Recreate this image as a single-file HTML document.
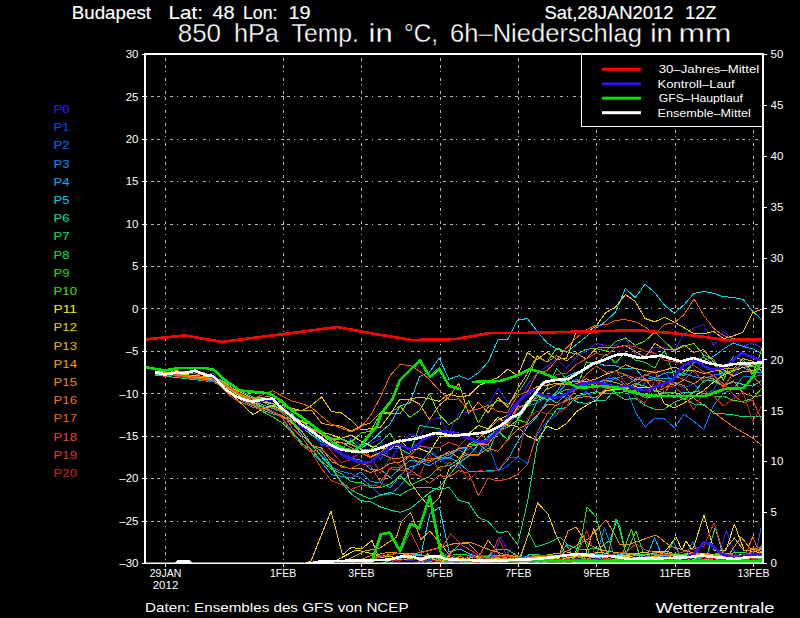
<!DOCTYPE html>
<html><head><meta charset="utf-8"><title>Budapest 850 hPa Ensemble</title>
<style>html,body{margin:0;padding:0;background:#000;width:800px;height:618px;overflow:hidden}svg{display:block}</style>
</head><body>
<svg width="800" height="618" viewBox="0 0 800 618">
<rect width="800" height="618" fill="#000"/>
<path d="M150.5 521.5H763 M150.5 478.5H763 M150.5 436.5H763 M150.5 393.5H763 M150.5 351.5H763 M150.5 308.5H763 M150.5 266.5H763 M150.5 224.5H763 M150.5 181.5H763 M150.5 139.5H763 M150.5 96.5H763" stroke="#b4b4b4" stroke-width="1" stroke-dasharray="3 3.5 3 3.5 1 5.5 3 3.5 1 5.5" fill="none" shape-rendering="crispEdges"/>
<path d="M165.5 58V563 M283.5 58V563 M361.5 58V563 M440.5 58V563 M518.5 58V563 M596.5 58V563 M675.5 58V563 M753.5 58V563" stroke="#b4b4b4" stroke-width="1" stroke-dasharray="3 3.5 3 3.5 1 5.5 3 3.5 1 5.5" fill="none" shape-rendering="crispEdges"/>
<defs><clipPath id="pc"><rect x="145" y="55" width="618" height="508"/></clipPath></defs>
<g clip-path="url(#pc)">
<polyline points="155.0,373.2 164.8,375.1 174.6,373.2 184.4,373.0 194.2,371.0 204.0,375.3 213.8,376.3 223.6,389.4 233.4,394.6 243.2,401.8 253.0,403.2 262.8,401.2 272.6,400.8 282.4,408.9 292.2,416.0 302.0,427.8 311.8,432.6 321.6,445.3 331.4,447.2 341.2,446.8 351.0,458.8 360.8,447.0 370.6,443.8 380.4,438.9 390.2,460.4 400.0,445.2 409.8,434.2 419.6,436.3 429.4,420.4 439.2,417.4 449.0,432.9 458.8,413.2 468.6,411.9 478.4,409.0 488.2,405.7 498.0,388.1 507.8,403.0 517.6,405.9 527.4,384.6 537.2,372.7 547.0,366.3 556.8,359.1 566.6,368.3 576.4,356.8 586.2,351.1 596.0,343.2 605.8,345.9 615.6,345.8 625.4,337.8 635.2,353.9 645.0,356.2 654.8,347.0 664.6,348.0 674.4,351.2 684.2,333.6 694.0,328.1 703.8,324.3 713.6,345.9 723.4,331.7 733.2,339.1 743.0,346.3 752.8,342.7 762.6,348.8 763.0,354.1" stroke="#4010ff" stroke-width="1" fill="none" stroke-linejoin="round" shape-rendering="crispEdges"/>
<polyline points="155.0,371.8 164.8,374.8 174.6,373.2 184.4,372.5 194.2,371.9 204.0,375.0 213.8,373.5 223.6,387.7 233.4,395.2 243.2,400.2 253.0,400.7 262.8,401.3 272.6,399.4 282.4,409.3 292.2,415.4 302.0,421.4 311.8,434.8 321.6,444.9 331.4,443.2 341.2,451.2 351.0,438.3 360.8,445.1 370.6,444.2 380.4,459.1 390.2,448.5 400.0,448.1 409.8,456.5 419.6,445.3 429.4,448.8 439.2,458.0 449.0,465.9 458.8,467.3 468.6,445.4 478.4,454.3 488.2,444.3 498.0,471.3 507.8,465.8 517.6,457.0 527.4,463.4 537.2,435.1 547.0,420.9 556.8,415.3 566.6,397.5 576.4,399.9 586.2,391.5 596.0,401.6 605.8,387.7 615.6,386.7 625.4,387.9 635.2,396.1 645.0,382.0 654.8,379.5 664.6,372.4 674.4,383.7 684.2,387.6 694.0,383.7 703.8,396.7 713.6,389.5 723.4,370.7 733.2,376.7 743.0,365.7 752.8,364.8 762.6,364.9 763.0,369.4" stroke="#0050ff" stroke-width="1" fill="none" stroke-linejoin="round" shape-rendering="crispEdges"/>
<polyline points="155.0,372.0 164.8,373.3 174.6,374.6 184.4,375.9 194.2,377.2 204.0,378.5 213.8,379.8 223.6,385.6 233.4,391.9 243.2,397.7 253.0,402.7 262.8,407.5 272.6,412.7 282.4,415.5 292.2,421.9 302.0,434.7 311.8,445.7 321.6,455.6 331.4,467.3 341.2,471.4 351.0,473.7 360.8,477.9 370.6,485.8 380.4,495.3 390.2,494.3 400.0,486.2 409.8,472.7 419.6,460.3 429.4,462.6 439.2,456.1 449.0,459.0 458.8,447.2 468.6,449.7 478.4,438.7 488.2,427.7 498.0,434.3 507.8,422.9 517.6,406.6 527.4,406.0 537.2,403.1 547.0,396.7 556.8,398.4 566.6,394.1 576.4,388.9 586.2,383.8 596.0,383.1 605.8,379.1 615.6,377.5 625.4,385.2 635.2,411.6 645.0,426.7 654.8,418.1 664.6,419.0 674.4,427.7 684.2,414.3 694.0,421.7 703.8,429.5 713.6,405.2 723.4,393.2 733.2,389.2 743.0,376.8 752.8,376.5 762.6,375.3 763.0,368.8" stroke="#0078ff" stroke-width="1" fill="none" stroke-linejoin="round" shape-rendering="crispEdges"/>
<polyline points="155.0,373.0 164.8,374.3 174.6,375.6 184.4,376.9 194.2,378.2 204.0,379.5 213.8,380.8 223.6,385.9 233.4,391.6 243.2,397.4 253.0,402.5 262.8,407.5 272.6,412.1 282.4,417.8 292.2,431.6 302.0,442.8 311.8,452.6 321.6,461.9 331.4,474.7 341.2,476.2 351.0,478.2 360.8,472.0 370.6,481.7 380.4,482.5 390.2,487.7 400.0,475.5 409.8,467.2 419.6,464.1 429.4,451.8 439.2,458.9 449.0,454.8 458.8,449.8 468.6,455.1 478.4,455.3 488.2,435.5 498.0,430.6 507.8,424.8 517.6,413.5 527.4,402.9 537.2,393.7 547.0,400.6 556.8,394.3 566.6,383.5 576.4,379.3 586.2,385.7 596.0,381.5 605.8,382.2 615.6,378.5 625.4,375.1 635.2,381.4 645.0,374.5 654.8,378.1 664.6,378.7 674.4,378.0 684.2,373.4 694.0,376.7 703.8,378.3 713.6,375.1 723.4,373.3 733.2,370.0 743.0,367.5 752.8,372.9 762.6,372.1 763.0,369.1" stroke="#0098ff" stroke-width="1" fill="none" stroke-linejoin="round" shape-rendering="crispEdges"/>
<polyline points="155.0,372.0 164.8,373.1 174.6,374.3 184.4,375.4 194.2,376.6 204.0,377.7 213.8,378.9 223.6,384.0 233.4,390.0 243.2,395.9 253.0,401.2 262.8,404.8 272.6,408.6 282.4,412.1 292.2,415.7 302.0,425.5 311.8,434.7 321.6,441.8 331.4,447.2 341.2,455.1 351.0,458.3 360.8,460.1 370.6,469.5 380.4,469.3 390.2,477.5 400.0,468.6 409.8,460.5 419.6,461.4 429.4,465.9 439.2,459.6 449.0,457.3 458.8,462.9 468.6,471.3 478.4,471.9 488.2,470.7 498.0,470.7 507.8,459.9 517.6,441.6 527.4,426.9 537.2,416.2 547.0,401.4 556.8,391.7 566.6,376.5 576.4,372.2 586.2,369.6 596.0,362.8 605.8,365.7 615.6,365.8 625.4,369.0 635.2,368.1 645.0,379.5 654.8,377.7 664.6,373.2 674.4,371.7 684.2,375.8 694.0,361.9 703.8,360.8 713.6,356.3 723.4,349.2 733.2,342.9 743.0,346.3 752.8,349.0 762.6,353.9 763.0,352.7" stroke="#00b8ff" stroke-width="1" fill="none" stroke-linejoin="round" shape-rendering="crispEdges"/>
<polyline points="155.0,373.0 164.8,373.7 174.6,374.3 184.4,375.0 194.2,375.6 204.0,376.3 213.8,376.9 223.6,381.5 233.4,386.9 243.2,392.0 253.0,397.0 262.8,401.9 272.6,406.7 282.4,412.2 292.2,415.7 302.0,421.7 311.8,428.6 321.6,432.2 331.4,439.6 341.2,438.9 351.0,444.1 360.8,448.8 370.6,441.6 380.4,432.2 390.2,423.9 400.0,405.9 409.8,403.1 419.6,376.5 429.4,372.2 439.2,358.1 449.0,379.4 458.8,375.6 468.6,379.5 478.4,372.8 488.2,361.8 498.0,339.8 507.8,339.0 517.6,320.2 527.4,318.5 537.2,331.5 547.0,342.8 556.8,349.1 566.6,352.3 576.4,344.4 586.2,336.7 596.0,328.2 605.8,321.3 615.6,311.9 625.4,288.4 635.2,297.5 645.0,284.3 654.8,292.5 664.6,305.4 674.4,313.2 684.2,304.7 694.0,293.4 703.8,291.4 713.6,293.3 723.4,296.7 733.2,297.4 743.0,299.4 752.8,311.3 762.6,320.5 763.0,319.2" stroke="#00d8f0" stroke-width="1" fill="none" stroke-linejoin="round" shape-rendering="crispEdges"/>
<polyline points="155.0,375.0 164.8,376.1 174.6,377.3 184.4,378.4 194.2,379.6 204.0,380.7 213.8,381.9 223.6,387.9 233.4,394.4 243.2,401.3 253.0,405.7 262.8,410.0 272.6,413.9 282.4,416.3 292.2,422.9 302.0,435.2 311.8,444.8 321.6,456.8 331.4,467.4 341.2,482.6 351.0,493.6 360.8,500.7 370.6,501.6 380.4,507.0 390.2,510.0 400.0,512.3 409.8,508.8 419.6,501.1 429.4,492.6 439.2,487.4 449.0,475.5 458.8,463.2 468.6,456.1 478.4,444.7 488.2,437.2 498.0,429.4 507.8,415.3 517.6,418.1 527.4,400.0 537.2,400.3 547.0,397.2 556.8,403.0 566.6,394.0 576.4,401.8 586.2,403.6 596.0,401.0 605.8,400.3 615.6,388.7 625.4,387.3 635.2,383.7 645.0,386.1 654.8,390.5 664.6,392.9 674.4,397.8 684.2,392.0 694.0,392.6 703.8,380.5 713.6,381.0 723.4,385.9 733.2,381.9 743.0,384.4 752.8,386.1 762.6,380.2 763.0,377.2" stroke="#00e0a0" stroke-width="1" fill="none" stroke-linejoin="round" shape-rendering="crispEdges"/>
<polyline points="155.0,374.0 164.8,375.0 174.6,376.0 184.4,376.9 194.2,377.9 204.0,378.9 213.8,379.9 223.6,386.2 233.4,393.3 243.2,400.4 253.0,404.9 262.8,407.2 272.6,408.1 282.4,410.7 292.2,421.7 302.0,431.6 311.8,444.7 321.6,451.8 331.4,465.9 341.2,481.9 351.0,489.7 360.8,495.0 370.6,499.0 380.4,495.0 390.2,492.6 400.0,495.3 409.8,489.5 419.6,487.1 429.4,487.6 439.2,489.4 449.0,487.3 458.8,500.4 468.6,503.0 478.4,517.4 488.2,521.5 498.0,532.5 507.8,531.7 517.6,544.7 527.4,502.4 537.2,444.7 547.0,423.1 556.8,409.0 566.6,407.7 576.4,396.0 586.2,393.9 596.0,391.7 605.8,393.4 615.6,393.9 625.4,399.7 635.2,398.0 645.0,405.3 654.8,409.4 664.6,409.2 674.4,402.1 684.2,398.3 694.0,404.0 703.8,404.4 713.6,413.3 723.4,413.8 733.2,414.9 743.0,416.7 752.8,416.8 762.6,416.7 763.0,418.8" stroke="#00e070" stroke-width="1" fill="none" stroke-linejoin="round" shape-rendering="crispEdges"/>
<polyline points="155.0,372.5 164.8,373.6 174.6,375.3 184.4,373.0 194.2,371.5 204.0,375.4 213.8,377.8 223.6,389.4 233.4,394.0 243.2,400.6 253.0,401.8 262.8,400.4 272.6,403.4 282.4,411.1 292.2,413.4 302.0,427.3 311.8,435.2 321.6,440.0 331.4,437.9 341.2,449.4 351.0,440.5 360.8,449.6 370.6,449.3 380.4,442.6 390.2,433.1 400.0,449.0 409.8,453.7 419.6,425.4 429.4,427.2 439.2,428.6 449.0,436.8 458.8,432.8 468.6,436.2 478.4,444.0 488.2,451.6 498.0,430.8 507.8,439.9 517.6,419.9 527.4,422.7 537.2,401.3 547.0,387.9 556.8,368.7 566.6,379.1 576.4,389.6 586.2,361.9 596.0,363.7 605.8,354.0 615.6,362.9 625.4,352.7 635.2,360.0 645.0,362.2 654.8,368.1 664.6,349.5 674.4,377.0 684.2,371.6 694.0,363.1 703.8,356.8 713.6,364.6 723.4,373.6 733.2,369.8 743.0,364.4 752.8,366.9 762.6,364.5 763.0,367.0" stroke="#10e040" stroke-width="1" fill="none" stroke-linejoin="round" shape-rendering="crispEdges"/>
<polyline points="155.0,373.0 164.8,374.1 174.6,375.3 184.4,376.4 194.2,377.6 204.0,378.7 213.8,379.9 223.6,384.9 233.4,392.0 243.2,398.2 253.0,403.5 262.8,411.6 272.6,416.8 282.4,423.1 292.2,432.7 302.0,443.8 311.8,449.6 321.6,461.4 331.4,469.0 341.2,473.4 351.0,481.8 360.8,482.5 370.6,487.5 380.4,487.6 390.2,484.0 400.0,475.7 409.8,485.4 419.6,480.8 429.4,476.7 439.2,467.2 449.0,465.5 458.8,459.5 468.6,444.8 478.4,444.7 488.2,441.5 498.0,429.7 507.8,427.4 517.6,420.0 527.4,406.3 537.2,395.4 547.0,399.5 556.8,394.0 566.6,389.3 576.4,389.4 586.2,381.8 596.0,386.1 605.8,386.1 615.6,392.8 625.4,391.7 635.2,390.6 645.0,397.8 654.8,396.5 664.6,392.9 674.4,392.5 684.2,400.1 694.0,391.0 703.8,393.1 713.6,396.1 723.4,396.0 733.2,400.6 743.0,401.4 752.8,398.4 762.6,387.3 763.0,389.4" stroke="#30e000" stroke-width="1" fill="none" stroke-linejoin="round" shape-rendering="crispEdges"/>
<polyline points="155.0,371.7 164.8,376.4 174.6,371.5 184.4,371.0 194.2,371.1 204.0,374.5 213.8,376.6 223.6,383.7 233.4,391.3 243.2,396.5 253.0,399.4 262.8,397.7 272.6,399.1 282.4,403.3 292.2,420.9 302.0,420.6 311.8,430.0 321.6,432.9 331.4,438.0 341.2,438.8 351.0,442.3 360.8,433.1 370.6,430.9 380.4,413.5 390.2,412.7 400.0,406.1 409.8,417.4 419.6,410.5 429.4,393.7 439.2,414.5 449.0,424.8 458.8,418.2 468.6,400.6 478.4,422.9 488.2,407.2 498.0,400.4 507.8,404.3 517.6,393.3 527.4,378.7 537.2,356.7 547.0,362.2 556.8,348.0 566.6,351.7 576.4,354.2 586.2,349.2 596.0,348.6 605.8,351.0 615.6,341.6 625.4,338.0 635.2,345.2 645.0,341.2 654.8,331.8 664.6,341.5 674.4,350.7 684.2,346.0 694.0,343.6 703.8,355.3 713.6,359.1 723.4,380.4 733.2,356.7 743.0,359.9 752.8,373.5 762.6,346.9 763.0,348.2" stroke="#50e000" stroke-width="1" fill="none" stroke-linejoin="round" shape-rendering="crispEdges"/>
<polyline points="155.0,372.0 164.8,373.3 174.6,374.6 184.4,375.9 194.2,377.2 204.0,378.5 213.8,379.8 223.6,388.0 233.4,396.3 243.2,405.3 253.0,414.6 262.8,408.9 272.6,405.6 282.4,410.1 292.2,417.1 302.0,421.9 311.8,424.7 321.6,432.0 331.4,434.7 341.2,438.4 351.0,435.1 360.8,441.0 370.6,446.1 380.4,447.5 390.2,449.8 400.0,439.5 409.8,450.6 419.6,448.6 429.4,452.6 439.2,437.0 449.0,435.9 458.8,433.9 468.6,433.7 478.4,425.5 488.2,428.8 498.0,417.1 507.8,425.1 517.6,426.4 527.4,436.1 537.2,440.3 547.0,426.4 556.8,429.9 566.6,423.4 576.4,411.7 586.2,405.5 596.0,399.9 605.8,390.6 615.6,389.5 625.4,388.9 635.2,386.8 645.0,387.9 654.8,386.1 664.6,403.8 674.4,407.9 684.2,402.9 694.0,396.6 703.8,390.3 713.6,382.1 723.4,375.0 733.2,371.0 743.0,367.4 752.8,365.2 762.6,361.0 763.0,367.2" stroke="#f0e000" stroke-width="1" fill="none" stroke-linejoin="round" shape-rendering="crispEdges"/>
<polyline points="155.0,371.0 164.8,372.1 174.6,373.3 184.4,374.4 194.2,375.6 204.0,376.7 213.8,377.9 223.6,382.5 233.4,388.7 243.2,393.7 253.0,398.9 262.8,401.9 272.6,403.8 282.4,405.6 292.2,408.5 302.0,410.7 311.8,405.3 321.6,397.0 331.4,411.6 341.2,412.8 351.0,420.2 360.8,429.8 370.6,428.7 380.4,427.5 390.2,414.3 400.0,399.0 409.8,399.0 419.6,397.1 429.4,398.8 439.2,401.2 449.0,394.2 458.8,396.7 468.6,395.7 478.4,385.9 488.2,381.4 498.0,377.6 507.8,369.0 517.6,375.8 527.4,352.5 537.2,359.7 547.0,352.0 556.8,359.4 566.6,358.3 576.4,331.2 586.2,332.3 596.0,326.3 605.8,312.5 615.6,307.0 625.4,294.6 635.2,301.3 645.0,318.5 654.8,321.8 664.6,317.3 674.4,322.2 684.2,327.8 694.0,333.7 703.8,334.0 713.6,331.2 723.4,338.7 733.2,335.9 743.0,332.1 752.8,312.8 762.6,308.9 763.0,311.2" stroke="#f0c800" stroke-width="1" fill="none" stroke-linejoin="round" shape-rendering="crispEdges"/>
<polyline points="155.0,373.0 164.8,374.0 174.6,375.0 184.4,375.9 194.2,376.9 204.0,377.9 213.8,378.9 223.6,384.7 233.4,391.5 243.2,398.3 253.0,402.8 262.8,406.2 272.6,411.5 282.4,416.0 292.2,420.0 302.0,425.6 311.8,429.1 321.6,434.2 331.4,442.2 341.2,442.6 351.0,444.4 360.8,449.2 370.6,456.5 380.4,452.6 390.2,444.4 400.0,447.5 409.8,481.7 419.6,495.3 429.4,506.9 439.2,497.9 449.0,469.0 458.8,462.2 468.6,444.5 478.4,438.7 488.2,429.5 498.0,420.2 507.8,415.3 517.6,403.5 527.4,392.5 537.2,386.6 547.0,385.1 556.8,383.4 566.6,382.9 576.4,381.3 586.2,381.5 596.0,378.9 605.8,374.2 615.6,371.5 625.4,364.9 635.2,368.4 645.0,370.6 654.8,372.7 664.6,370.2 674.4,367.2 684.2,370.1 694.0,370.2 703.8,373.5 713.6,371.1 723.4,369.7 733.2,376.2 743.0,371.6 752.8,370.6 762.6,367.2 763.0,367.2" stroke="#f0b400" stroke-width="1" fill="none" stroke-linejoin="round" shape-rendering="crispEdges"/>
<polyline points="155.0,371.6 164.8,374.7 174.6,370.7 184.4,371.4 194.2,370.7 204.0,372.7 213.8,377.5 223.6,386.0 233.4,391.4 243.2,396.4 253.0,398.0 262.8,397.4 272.6,395.6 282.4,400.3 292.2,410.6 302.0,410.8 311.8,410.5 321.6,423.3 331.4,425.3 341.2,426.1 351.0,431.3 360.8,425.9 370.6,422.7 380.4,412.5 390.2,413.4 400.0,413.8 409.8,399.1 419.6,404.1 429.4,419.5 439.2,405.4 449.0,396.8 458.8,383.4 468.6,413.7 478.4,402.2 488.2,412.8 498.0,397.7 507.8,407.3 517.6,388.7 527.4,373.4 537.2,355.8 547.0,362.1 556.8,355.7 566.6,361.0 576.4,353.0 586.2,359.0 596.0,348.3 605.8,347.1 615.6,347.2 625.4,345.5 635.2,351.4 645.0,357.3 654.8,343.4 664.6,349.5 674.4,349.8 684.2,344.9 694.0,352.3 703.8,349.6 713.6,362.3 723.4,368.4 733.2,368.9 743.0,358.6 752.8,361.2 762.6,372.6 763.0,383.1" stroke="#f0a000" stroke-width="1" fill="none" stroke-linejoin="round" shape-rendering="crispEdges"/>
<polyline points="155.0,372.0 164.8,373.3 174.6,374.6 184.4,375.9 194.2,377.2 204.0,378.5 213.8,379.8 223.6,385.0 233.4,390.8 243.2,396.0 253.0,401.6 262.8,406.6 272.6,412.0 282.4,416.5 292.2,423.6 302.0,431.8 311.8,445.5 321.6,447.9 331.4,461.6 341.2,465.8 351.0,468.8 360.8,468.8 370.6,472.6 380.4,469.4 390.2,463.3 400.0,462.2 409.8,456.0 419.6,458.4 429.4,460.8 439.2,456.9 449.0,453.0 458.8,448.7 468.6,446.7 478.4,444.6 488.2,444.4 498.0,430.7 507.8,422.1 517.6,407.1 527.4,403.7 537.2,397.7 547.0,389.2 556.8,384.8 566.6,384.8 576.4,383.9 586.2,378.8 596.0,382.5 605.8,380.3 615.6,382.6 625.4,386.0 635.2,379.4 645.0,380.3 654.8,379.9 664.6,381.5 674.4,385.2 684.2,379.7 694.0,383.7 703.8,376.8 713.6,379.0 723.4,386.1 733.2,380.8 743.0,392.8 752.8,396.3 762.6,395.7 763.0,394.3" stroke="#f08c00" stroke-width="1" fill="none" stroke-linejoin="round" shape-rendering="crispEdges"/>
<polyline points="155.0,373.0 164.8,374.1 174.6,375.3 184.4,376.4 194.2,377.6 204.0,378.7 213.8,379.9 223.6,384.9 233.4,390.5 243.2,396.9 253.0,401.0 262.8,406.4 272.6,411.6 282.4,415.9 292.2,420.0 302.0,426.4 311.8,431.0 321.6,432.9 331.4,439.5 341.2,442.7 351.0,447.3 360.8,452.9 370.6,457.5 380.4,452.8 390.2,458.4 400.0,458.1 409.8,456.1 419.6,463.4 429.4,458.4 439.2,458.2 449.0,451.2 458.8,457.9 468.6,454.5 478.4,454.8 488.2,448.3 498.0,451.3 507.8,439.6 517.6,429.4 527.4,424.3 537.2,415.0 547.0,404.6 556.8,405.2 566.6,399.9 576.4,398.2 586.2,396.4 596.0,397.9 605.8,389.1 615.6,386.9 625.4,388.1 635.2,385.3 645.0,378.3 654.8,392.0 664.6,387.7 674.4,382.1 684.2,385.9 694.0,398.3 703.8,405.4 713.6,411.9 723.4,419.6 733.2,426.7 743.0,432.4 752.8,438.2 762.6,446.2 763.0,439.6" stroke="#f07800" stroke-width="1" fill="none" stroke-linejoin="round" shape-rendering="crispEdges"/>
<polyline points="155.0,373.0 164.8,373.8 174.6,374.6 184.4,375.4 194.2,376.3 204.0,377.1 213.8,377.9 223.6,383.0 233.4,389.6 243.2,395.5 253.0,398.9 262.8,394.5 272.6,390.7 282.4,396.1 292.2,401.0 302.0,403.5 311.8,407.7 321.6,416.3 331.4,424.1 341.2,428.1 351.0,432.1 360.8,427.4 370.6,415.3 380.4,397.2 390.2,375.5 400.0,364.7 409.8,365.3 419.6,371.2 429.4,379.4 439.2,390.3 449.0,399.4 458.8,398.9 468.6,410.7 478.4,409.0 488.2,405.3 498.0,411.8 507.8,412.2 517.6,395.3 527.4,391.7 537.2,373.4 547.0,370.8 556.8,360.1 566.6,347.8 576.4,337.8 586.2,329.8 596.0,325.2 605.8,324.9 615.6,320.2 625.4,319.8 635.2,321.5 645.0,327.0 654.8,333.9 664.6,324.3 674.4,322.8 684.2,314.5 694.0,298.9 703.8,315.4 713.6,328.4 723.4,335.5 733.2,338.8 743.0,339.6 752.8,338.8 762.6,339.6 763.0,342.3" stroke="#f06000" stroke-width="1" fill="none" stroke-linejoin="round" shape-rendering="crispEdges"/>
<polyline points="155.0,370.7 164.8,376.9 174.6,373.4 184.4,373.7 194.2,373.9 204.0,374.5 213.8,378.6 223.6,389.2 233.4,398.6 243.2,403.0 253.0,407.3 262.8,409.5 272.6,407.2 282.4,412.6 292.2,428.0 302.0,437.2 311.8,451.7 321.6,449.2 331.4,458.1 341.2,467.2 351.0,468.4 360.8,463.5 370.6,466.3 380.4,481.5 390.2,468.7 400.0,470.3 409.8,469.7 419.6,476.2 429.4,483.3 439.2,475.5 449.0,477.0 458.8,470.6 468.6,473.2 478.4,495.6 488.2,478.3 498.0,481.1 507.8,478.9 517.6,474.7 527.4,464.7 537.2,432.4 547.0,413.9 556.8,404.4 566.6,401.4 576.4,388.3 586.2,374.4 596.0,366.1 605.8,372.2 615.6,371.4 625.4,374.6 635.2,378.5 645.0,375.8 654.8,370.8 664.6,393.7 674.4,376.2 684.2,379.6 694.0,370.4 703.8,383.0 713.6,375.2 723.4,387.5 733.2,372.9 743.0,361.7 752.8,376.2 762.6,386.5 763.0,382.1" stroke="#e84818" stroke-width="1" fill="none" stroke-linejoin="round" shape-rendering="crispEdges"/>
<polyline points="155.0,373.0 164.8,374.5 174.6,375.9 184.4,377.4 194.2,378.9 204.0,380.4 213.8,381.8 223.6,387.0 233.4,393.3 243.2,400.4 253.0,404.7 262.8,409.1 272.6,411.4 282.4,418.0 292.2,434.6 302.0,445.4 311.8,452.8 321.6,468.7 331.4,480.6 341.2,484.3 351.0,489.4 360.8,485.6 370.6,485.0 380.4,486.5 390.2,467.3 400.0,467.4 409.8,455.4 419.6,446.7 429.4,447.1 439.2,447.9 449.0,442.1 458.8,446.2 468.6,436.1 478.4,432.1 488.2,440.5 498.0,432.5 507.8,426.6 517.6,408.6 527.4,404.0 537.2,389.4 547.0,382.7 556.8,374.2 566.6,373.6 576.4,364.2 586.2,359.1 596.0,353.0 605.8,356.0 615.6,347.7 625.4,345.6 635.2,346.5 645.0,351.1 654.8,353.3 664.6,360.2 674.4,361.7 684.2,364.4 694.0,365.5 703.8,372.0 713.6,375.3 723.4,383.8 733.2,394.0 743.0,402.9 752.8,400.0 762.6,422.7 763.0,421.8" stroke="#d83820" stroke-width="1" fill="none" stroke-linejoin="round" shape-rendering="crispEdges"/>
<polyline points="155.0,371.1 164.8,375.6 174.6,373.6 184.4,373.7 194.2,370.8 204.0,374.5 213.8,378.9 223.6,386.1 233.4,394.9 243.2,400.4 253.0,400.2 262.8,399.8 272.6,400.7 282.4,410.5 292.2,417.9 302.0,424.5 311.8,432.9 321.6,439.4 331.4,451.2 341.2,462.6 351.0,459.6 360.8,452.0 370.6,456.3 380.4,473.1 390.2,457.8 400.0,465.6 409.8,474.0 419.6,475.7 429.4,454.2 439.2,470.0 449.0,462.5 458.8,465.7 468.6,480.1 478.4,470.5 488.2,471.6 498.0,470.6 507.8,457.1 517.6,457.4 527.4,418.6 537.2,411.1 547.0,413.6 556.8,414.0 566.6,407.7 576.4,385.1 586.2,385.1 596.0,390.0 605.8,380.0 615.6,370.5 625.4,382.8 635.2,396.6 645.0,403.4 654.8,380.3 664.6,387.4 674.4,386.5 684.2,395.1 694.0,410.1 703.8,390.5 713.6,396.2 723.4,405.9 733.2,399.0 743.0,391.8 752.8,421.3 762.6,404.7 763.0,418.9" stroke="#c82020" stroke-width="1" fill="none" stroke-linejoin="round" shape-rendering="crispEdges"/>
<polyline points="145.0,563.5 393.3,563.5 403.1,559.7 412.9,560.9 422.7,561.9 432.5,560.6 442.3,562.2 452.1,562.2 461.9,560.4 471.7,553.5 481.5,560.5 491.3,562.0 501.1,536.5 510.9,559.1 520.7,560.2 530.5,561.2 540.3,560.9 550.1,561.0 559.9,561.1 569.7,553.4 579.5,559.9 589.3,561.5 599.1,558.4 608.9,555.0 618.7,559.9 628.5,553.6 638.3,562.5 648.1,554.0 657.9,559.5 667.7,559.9 677.5,560.1 687.3,559.8 697.1,553.6 706.9,562.1 716.7,559.7 726.5,531.0 736.3,556.5 746.1,561.9 755.9,562.1 763.0,562.1" stroke="#4010ff" stroke-width="1" fill="none" stroke-linejoin="round" shape-rendering="crispEdges"/>
<polyline points="145.0,563.5 420.0,563.5 440.0,556.0 460.0,559.0 480.0,555.0 500.0,557.0 520.0,556.0 540.0,558.0 560.0,555.0 580.0,557.0 600.0,554.0 620.0,556.0 640.0,559.0 660.0,556.0 680.0,558.0 700.0,555.0 720.0,558.0 740.0,556.0 756.0,553.0 761.0,528.6 763.0,528.0" stroke="#0050ff" stroke-width="1" fill="none" stroke-linejoin="round" shape-rendering="crispEdges"/>
<polyline points="145.0,563.5 388.9,563.5 398.7,558.5 408.5,560.0 418.3,559.8 428.1,557.7 437.9,560.5 447.7,553.4 457.5,558.6 467.3,561.5 477.1,559.9 486.9,556.3 496.7,556.2 506.5,561.1 516.3,561.0 526.1,559.9 535.9,559.4 545.7,560.0 555.5,559.1 565.3,559.6 575.1,553.7 584.9,560.7 594.7,562.2 604.5,527.6 614.3,555.4 624.1,554.6 633.9,561.6 643.7,555.3 653.5,558.8 663.3,559.9 673.1,561.6 682.9,561.9 692.7,541.7 702.5,562.3 712.3,557.8 722.1,562.1 731.9,554.1 741.7,560.5 751.5,560.7 761.3,560.2 763.0,528.7" stroke="#0078ff" stroke-width="1" fill="none" stroke-linejoin="round" shape-rendering="crispEdges"/>
<polyline points="145.0,563.5 428.1,563.5 437.9,562.4 447.7,561.0 457.5,561.5 467.3,562.3 477.1,560.2 486.9,560.2 496.7,560.1 506.5,561.4 516.3,559.7 526.1,561.2 535.9,559.9 545.7,560.6 555.5,560.7 565.3,562.3 575.1,559.5 584.9,560.3 594.7,555.2 604.5,561.2 614.3,562.2 624.1,562.4 633.9,561.0 643.7,555.5 653.5,560.6 663.3,561.7 673.1,541.1 682.9,561.9 692.7,554.0 702.5,561.2 712.3,561.5 722.1,561.9 731.9,560.0 741.7,559.8 751.5,556.3 761.3,559.5 763.0,559.9" stroke="#0098ff" stroke-width="1" fill="none" stroke-linejoin="round" shape-rendering="crispEdges"/>
<polyline points="145.0,563.5 448.8,563.5 458.6,559.6 468.4,559.3 478.2,561.7 488.0,557.5 497.8,561.0 507.6,559.9 517.4,561.1 527.2,560.2 537.0,562.4 546.8,560.8 556.6,560.1 566.4,544.5 576.2,562.4 586.0,561.8 595.8,560.1 605.6,561.1 615.4,560.5 625.2,559.6 635.0,561.9 644.8,562.0 654.6,537.6 664.4,562.0 674.2,558.0 684.0,560.9 693.8,560.2 703.6,554.8 713.4,562.2 723.2,560.3 733.0,557.2 742.8,559.7 752.6,556.4 762.4,560.1 763.0,561.1" stroke="#00b8ff" stroke-width="1" fill="none" stroke-linejoin="round" shape-rendering="crispEdges"/>
<polyline points="145.0,563.5 360.0,563.5 380.0,556.0 400.0,553.0 421.0,554.5 429.8,514.2 439.4,507.2 449.0,552.0 460.0,549.0 472.0,555.0 490.0,558.0 510.0,556.0 530.0,558.0 550.0,555.0 570.0,557.0 590.0,553.0 610.0,556.0 630.0,553.0 650.0,557.0 670.0,555.0 690.0,558.0 710.0,554.0 730.0,557.0 763.0,555.0" stroke="#00d8f0" stroke-width="1" fill="none" stroke-linejoin="round" shape-rendering="crispEdges"/>
<polyline points="145.0,563.5 421.2,563.5 431.0,555.3 440.8,560.5 450.6,561.8 460.4,559.5 470.2,560.9 480.0,561.5 489.8,559.9 499.6,562.2 509.4,560.8 519.2,561.0 529.0,554.7 538.8,554.8 548.6,558.1 558.4,562.1 568.2,556.8 578.0,559.9 587.8,559.6 597.6,559.6 607.4,558.9 617.2,561.6 627.0,560.5 636.8,559.9 646.6,561.5 656.4,554.4 666.2,561.9 676.0,559.5 685.8,560.8 695.6,556.6 705.4,560.7 715.2,527.5 725.0,561.3 734.8,560.8 744.6,560.4 754.4,556.6 763.0,559.6" stroke="#00e0a0" stroke-width="1" fill="none" stroke-linejoin="round" shape-rendering="crispEdges"/>
<polyline points="145.0,563.5 480.0,563.5 496.0,549.0 508.0,550.0 516.0,555.0 520.0,557.0 529.0,533.0 536.0,547.0 548.0,543.0 560.0,537.0 568.0,545.0 580.0,550.0 600.0,548.0 610.0,540.0 617.0,520.0 626.0,554.0 640.0,555.0 660.0,552.0 680.0,556.0 700.0,553.0 720.0,555.0 740.0,552.0 763.0,556.0" stroke="#00e070" stroke-width="1" fill="none" stroke-linejoin="round" shape-rendering="crispEdges"/>
<polyline points="145.0,563.5 380.0,563.5 400.0,558.0 420.0,555.0 440.0,557.0 460.0,554.0 480.0,557.0 500.0,555.0 520.0,558.0 540.0,556.0 560.0,557.0 576.0,555.0 580.0,545.0 587.0,507.0 596.0,517.0 604.0,545.0 608.0,555.0 616.0,519.0 620.0,527.0 626.0,554.0 636.0,531.0 643.0,552.0 660.0,556.0 680.0,554.0 700.0,557.0 720.0,553.0 740.0,556.0 763.0,554.0" stroke="#10e040" stroke-width="1" fill="none" stroke-linejoin="round" shape-rendering="crispEdges"/>
<polyline points="145.0,563.5 459.3,563.5 469.1,557.1 478.9,557.4 488.7,559.7 498.5,561.5 508.3,556.1 518.1,562.1 527.9,562.4 537.7,558.8 547.5,561.5 557.3,560.6 567.1,555.3 576.9,556.8 586.7,559.1 596.5,561.2 606.3,557.5 616.1,562.0 625.9,556.0 635.7,560.9 645.5,560.6 655.3,561.8 665.1,560.0 674.9,561.5 684.7,553.9 694.5,553.3 704.3,562.1 714.1,555.3 723.9,559.8 733.7,561.2 743.5,562.1 753.3,560.4 763.0,543.1" stroke="#30e000" stroke-width="1" fill="none" stroke-linejoin="round" shape-rendering="crispEdges"/>
<polyline points="145.0,563.5 425.5,563.5 435.3,559.5 445.1,556.9 454.9,561.0 464.7,561.9 474.5,559.7 484.3,556.5 494.1,560.8 503.9,559.1 513.7,554.5 523.5,559.7 533.3,560.0 543.1,561.1 552.9,561.5 562.7,560.9 572.5,560.7 582.3,533.0 592.1,561.9 601.9,560.2 611.7,561.9 621.5,556.8 631.3,529.0 641.1,560.3 650.9,560.6 660.7,560.7 670.5,559.5 680.3,561.7 690.1,560.2 699.9,560.0 709.7,559.8 719.5,560.4 729.3,560.2 739.1,560.3 748.9,558.0 758.7,562.5 763.0,555.9" stroke="#50e000" stroke-width="1" fill="none" stroke-linejoin="round" shape-rendering="crispEdges"/>
<polyline points="145.0,563.5 330.0,563.5 347.5,554.5 356.2,550.0 365.0,552.0 380.0,556.0 400.0,553.0 420.0,558.0 440.0,555.0 460.0,559.0 480.0,556.0 500.0,560.0 520.0,559.0 540.0,557.0 560.0,559.0 580.0,556.0 600.0,558.0 620.0,555.0 640.0,558.0 660.0,556.0 668.0,548.0 676.0,537.0 682.0,550.0 686.0,541.0 692.0,550.0 694.0,546.0 704.0,515.0 714.0,550.0 726.0,550.0 734.4,524.0 744.0,550.0 763.0,553.0" stroke="#f0e000" stroke-width="1" fill="none" stroke-linejoin="round" shape-rendering="crispEdges"/>
<polyline points="145.0,563.5 305.0,563.5 311.0,561.0 331.0,511.0 342.5,555.0 351.0,547.5 361.5,549.0 372.0,540.5 379.0,558.0 390.0,556.0 400.0,560.0 420.0,557.0 440.0,561.0 460.0,558.0 480.0,560.0 500.0,558.0 520.0,559.0 528.0,535.0 537.6,503.0 548.0,514.0 556.0,535.0 564.0,551.0 580.0,556.0 600.0,552.0 620.0,557.0 640.0,553.0 656.0,551.0 666.0,551.0 680.0,556.0 700.0,553.0 720.0,557.0 740.0,555.0 763.0,556.0" stroke="#f0c800" stroke-width="1" fill="none" stroke-linejoin="round" shape-rendering="crispEdges"/>
<polyline points="145.0,563.5 417.4,563.5 427.2,553.7 437.0,561.5 446.8,560.8 456.6,561.3 466.4,560.5 476.2,560.2 486.0,562.4 495.8,560.2 505.6,557.6 515.4,559.1 525.2,562.2 535.0,554.0 544.8,560.9 554.6,560.8 564.4,560.6 574.2,562.3 584.0,560.2 593.8,528.3 603.6,557.1 613.4,556.9 623.2,562.3 633.0,561.2 642.8,560.7 652.6,558.4 662.4,560.8 672.2,555.4 682.0,560.4 691.8,560.2 701.6,555.1 711.4,554.1 721.2,562.3 731.0,559.6 740.8,554.0 750.6,561.0 760.4,561.8 763.0,559.6" stroke="#f0b400" stroke-width="1" fill="none" stroke-linejoin="round" shape-rendering="crispEdges"/>
<polyline points="145.0,563.5 340.0,563.5 365.0,551.0 380.0,548.0 396.5,537.0 401.8,521.0 410.5,512.5 421.0,539.6 429.8,531.0 438.5,541.4 449.0,554.5 460.0,544.0 468.0,543.0 480.0,555.0 488.0,540.0 500.0,555.0 520.0,558.0 540.0,556.0 560.0,553.0 568.0,531.0 576.0,527.0 584.0,539.0 590.0,545.0 600.0,550.0 620.0,553.0 640.0,556.0 660.0,552.0 680.0,557.0 700.0,554.0 720.0,556.0 734.4,538.0 744.0,550.6 755.0,549.6 763.0,552.0" stroke="#f0a000" stroke-width="1" fill="none" stroke-linejoin="round" shape-rendering="crispEdges"/>
<polyline points="145.0,563.5 350.0,563.5 370.0,556.0 390.0,552.0 410.0,555.0 430.0,550.0 452.5,544.0 470.0,542.2 490.0,550.0 510.0,556.0 530.0,558.0 560.0,555.0 588.0,539.0 606.0,520.0 614.0,533.0 620.0,545.0 630.0,544.0 656.0,535.0 670.0,546.0 690.0,552.0 710.0,556.0 730.0,553.0 741.0,537.0 750.0,548.0 763.0,550.0" stroke="#f08c00" stroke-width="1" fill="none" stroke-linejoin="round" shape-rendering="crispEdges"/>
<polyline points="145.0,563.5 431.2,563.5 441.0,559.5 450.8,560.7 460.6,556.0 470.4,561.9 480.2,556.7 490.0,557.3 499.8,561.1 509.6,556.3 519.4,560.1 529.2,559.5 539.0,560.3 548.8,559.7 558.6,560.1 568.4,561.4 578.2,555.6 588.0,560.7 597.8,560.2 607.6,558.7 617.4,559.7 627.2,562.4 637.0,558.5 646.8,560.6 656.6,556.6 666.4,559.8 676.2,560.8 686.0,561.4 695.8,561.9 705.6,555.2 715.4,562.3 725.2,554.7 735.0,560.2 744.8,557.4 754.6,554.7 763.0,555.8" stroke="#f07800" stroke-width="1" fill="none" stroke-linejoin="round" shape-rendering="crispEdges"/>
<polyline points="145.0,563.5 468.5,563.5 478.3,560.8 488.1,559.7 497.9,561.4 507.7,554.2 517.5,559.9 527.3,561.0 537.1,561.6 546.9,562.3 556.7,555.7 566.5,558.3 576.3,560.4 586.1,559.4 595.9,555.3 605.7,559.6 615.5,560.8 625.3,559.6 635.1,561.2 644.9,561.6 654.7,557.6 664.5,559.8 674.3,557.9 684.1,557.9 693.9,557.7 703.7,556.4 713.5,560.8 723.3,560.8 733.1,555.1 742.9,561.6 752.7,536.7 762.5,560.8 763.0,560.5" stroke="#f06000" stroke-width="1" fill="none" stroke-linejoin="round" shape-rendering="crispEdges"/>
<polyline points="145.0,563.5 442.6,563.5 452.4,556.6 462.2,562.2 472.0,555.2 481.8,562.2 491.6,562.1 501.4,560.5 511.2,558.9 521.0,560.9 530.8,561.3 540.6,559.5 550.4,561.0 560.2,560.3 570.0,559.7 579.8,560.0 589.6,559.9 599.4,560.0 609.2,559.6 619.0,560.9 628.8,560.0 638.6,561.2 648.4,555.2 658.2,561.4 668.0,559.0 677.8,561.6 687.6,562.3 697.4,559.6 707.2,560.1 717.0,560.0 726.8,560.7 736.6,562.4 746.4,559.1 756.2,558.8 763.0,560.7" stroke="#e84818" stroke-width="1" fill="none" stroke-linejoin="round" shape-rendering="crispEdges"/>
<polyline points="145.0,563.5 360.0,563.5 380.0,557.0 400.0,552.8 410.5,531.8 421.0,552.8 432.0,550.0 442.0,547.5 450.8,533.5 463.0,545.8 472.0,551.0 484.0,559.0 500.0,556.0 520.0,558.0 540.0,555.0 560.0,557.0 580.0,554.0 600.0,556.0 626.0,552.0 636.0,544.0 646.0,550.0 660.0,555.0 680.0,553.0 704.0,546.0 714.0,523.0 724.0,554.0 740.0,556.0 752.0,552.0 763.0,545.0" stroke="#d83820" stroke-width="1" fill="none" stroke-linejoin="round" shape-rendering="crispEdges"/>
<polyline points="145.0,563.5 361.4,563.5 371.2,558.5 381.0,555.1 390.8,560.8 400.6,561.0 410.4,554.1 420.2,561.5 430.0,559.6 439.8,561.8 449.6,553.7 459.4,561.3 469.2,560.9 479.0,553.4 488.8,561.8 498.6,537.6 508.4,560.1 518.2,560.6 528.0,559.3 537.8,561.7 547.6,560.9 557.4,559.5 567.2,556.7 577.0,555.0 586.8,530.5 596.6,560.0 606.4,558.5 616.2,562.2 626.0,561.1 635.8,560.7 645.6,561.6 655.4,561.2 665.2,562.2 675.0,561.9 684.8,560.9 694.6,554.5 704.4,558.2 714.2,558.3 724.0,560.3 733.8,555.6 743.6,557.7 753.4,559.5 763.0,560.5" stroke="#c82020" stroke-width="1" fill="none" stroke-linejoin="round" shape-rendering="crispEdges"/>
<polyline points="145.0,339.5 185.0,335.5 222.0,342.0 260.0,337.0 300.0,332.0 337.0,327.0 375.0,334.0 412.0,340.0 440.0,339.5 456.0,339.0 490.0,333.0 522.0,333.0 564.0,332.0 605.0,331.0 640.0,330.5 672.0,333.0 705.0,337.0 724.0,340.0 763.0,339.5" stroke="#ff0000" stroke-width="2.7" fill="none" stroke-linejoin="round" shape-rendering="crispEdges"/>
<polyline points="155.0,372.0 165.0,374.5 175.0,372.8 185.0,373.0 195.0,370.6 205.0,375.0 213.0,376.0 217.0,380.0 225.0,389.0 235.0,396.0 245.0,400.0 253.0,401.6 265.0,400.0 273.0,399.0 285.0,410.0 297.0,421.0 300.0,426.0 312.0,432.0 324.0,441.0 336.0,450.5 348.0,458.0 360.0,462.5 371.0,462.0 379.0,455.0 393.0,445.0 399.0,444.4 411.0,450.0 424.0,439.0 435.0,434.0 440.0,431.0 456.0,433.0 468.0,438.0 480.0,442.0 488.0,441.0 500.0,428.0 512.0,410.0 520.0,400.0 532.0,390.0 544.0,396.0 556.0,398.0 566.0,394.0 580.0,384.0 596.0,382.0 612.0,386.0 628.0,386.0 640.0,390.0 648.0,390.0 660.0,385.0 672.5,380.0 682.0,367.0 693.6,360.0 711.5,370.0 724.5,367.0 742.0,353.0 762.0,361.0" stroke="#3010ff" stroke-width="2.7" fill="none" stroke-linejoin="round" shape-rendering="crispEdges"/>
<polyline points="145.0,367.0 150.0,368.0 165.0,370.5 179.0,368.0 205.0,368.0 214.0,370.0 225.0,380.0 240.0,390.5 255.0,392.0 270.0,393.5 279.0,399.5 289.5,408.5 300.0,416.0 312.0,425.0 324.0,434.0 333.0,443.0 345.0,449.0 354.0,450.5 361.0,446.0 370.0,434.0 377.0,426.0 381.0,414.0 392.5,398.8 400.0,380.0 411.0,369.0 420.0,360.6 430.0,376.9 439.4,368.8 448.8,385.6 452.5,386.9 459.4,389.0" stroke="#00e000" stroke-width="2.7" fill="none" stroke-linejoin="round" shape-rendering="crispEdges"/>
<polyline points="472.0,382.0 500.0,381.0 516.0,376.0 530.0,369.0 540.0,372.0 560.0,380.0 580.0,388.0 600.0,386.0 620.0,388.0 628.0,391.0 644.0,395.0 660.0,396.0 705.0,396.0 724.5,389.0 744.0,388.0 754.0,375.0 762.0,361.0" stroke="#00e000" stroke-width="2.7" fill="none" stroke-linejoin="round" shape-rendering="crispEdges"/>
<polyline points="145.0,564.5 680.0,564.5 688.0,556.0 694.0,554.0 704.0,542.4 710.0,544.0 722.0,554.0 734.0,558.0 750.0,555.0 758.0,554.0 762.0,556.0" stroke="#3010ff" stroke-width="2.7" fill="none" stroke-linejoin="round" shape-rendering="crispEdges"/>
<polyline points="145.0,564.5 365.0,564.0 372.0,561.0 380.8,534.4 389.5,532.6 400.0,551.0 410.5,523.9 419.2,528.2 429.8,495.9 440.2,551.0 447.2,560.6 463.0,561.0 500.0,560.5 560.0,561.0 620.0,561.5 700.0,561.5 763.0,561.5" stroke="#00e000" stroke-width="2.7" fill="none" stroke-linejoin="round" shape-rendering="crispEdges"/>
<polyline points="145.0,564.5 175.0,564.5 178.0,561.2 189.0,561.2 192.0,564.5 305.0,564.5 320.0,561.5 387.8,559.8 403.5,556.2 414.0,557.0 421.0,559.8 429.8,556.2 438.5,556.2 445.5,559.0 460.0,560.0 500.0,560.5 536.0,559.0 550.0,557.5 568.0,555.0 580.0,554.0 596.0,556.0 610.0,556.0 630.0,559.0 670.0,558.0 690.0,557.0 702.0,555.6 714.0,557.0 734.0,559.0 750.0,557.0 762.0,557.0" stroke="#ffffff" stroke-width="2.7" fill="none" stroke-linejoin="round" shape-rendering="crispEdges"/>
<polyline points="155.0,372.0 165.0,374.5 175.0,372.8 185.0,373.0 195.0,370.6 205.0,375.0 213.0,376.0 217.0,380.0 225.0,389.0 235.0,396.0 245.0,400.0 253.0,401.6 265.0,399.0 273.0,398.8 279.0,406.0 289.5,414.5 300.0,423.5 309.0,429.5 319.5,437.0 330.0,444.5 339.0,449.0 351.0,451.2 360.0,452.0 371.0,451.0 383.0,447.0 395.0,442.0 407.0,440.0 419.0,438.0 435.0,433.0 443.0,434.0 452.0,436.0 472.0,434.0 488.0,432.0 500.0,426.0 512.0,417.0 520.0,414.0 530.0,400.0 544.0,382.0 556.0,380.0 568.0,379.0 580.0,372.0 592.0,364.0 604.0,360.0 616.0,355.0 624.0,354.0 632.0,356.0 640.0,358.0 661.0,355.7 680.6,361.4 693.6,358.0 708.0,363.0 723.0,366.0 734.0,364.0 762.0,362.6" stroke="#ffffff" stroke-width="2.7" fill="none" stroke-linejoin="round" shape-rendering="crispEdges"/>
</g>
<rect x="581.5" y="54.5" width="182" height="72" fill="#000" stroke="#fff" stroke-width="1" shape-rendering="crispEdges"/>
<rect x="602" y="67.8" width="39" height="3" fill="#ff0000"/>
<rect x="602" y="82.3" width="39" height="3" fill="#3010ff"/>
<rect x="602" y="96.7" width="39" height="3" fill="#00e000"/>
<rect x="602" y="111.2" width="39" height="3" fill="#ffffff"/>
<rect x="144" y="53" width="2" height="511" fill="#fff"/>
<rect x="144" y="53" width="620" height="2" fill="#fff"/>
<rect x="144" y="562.5" width="620" height="1.5" fill="#fff"/>
<rect x="762" y="53" width="2" height="511" fill="#fff"/>
<path d="M142 563.5H147 M142 521.5H147 M142 478.5H147 M142 436.5H147 M142 393.5H147 M142 351.5H147 M142 308.5H147 M142 266.5H147 M142 224.5H147 M142 181.5H147 M142 139.5H147 M142 96.5H147 M142 54.5H147 M762 563.5H767 M762 512.5H767 M762 461.5H767 M762 410.5H767 M762 359.5H767 M762 308.5H767 M762 258.5H767 M762 207.5H767 M762 156.5H767 M762 105.5H767 M762 54.5H767 M165.5 563V567 M283.5 563V567 M361.5 563V567 M440.5 563V567 M518.5 563V567 M596.5 563V567 M675.5 563V567 M753.5 563V567" stroke="#fff" stroke-width="1" shape-rendering="crispEdges"/>
<g font-family="'Liberation Sans', sans-serif">
<text x="138.5" y="567.2" font-size="11.5" fill="#fff" text-anchor="end" >&#8211;30</text>
<text x="138.5" y="524.8" font-size="11.5" fill="#fff" text-anchor="end" >&#8211;25</text>
<text x="138.5" y="482.4" font-size="11.5" fill="#fff" text-anchor="end" >&#8211;20</text>
<text x="138.5" y="439.9" font-size="11.5" fill="#fff" text-anchor="end" >&#8211;15</text>
<text x="138.5" y="397.5" font-size="11.5" fill="#fff" text-anchor="end" >&#8211;10</text>
<text x="138.5" y="355.1" font-size="11.5" fill="#fff" text-anchor="end" >&#8211;5</text>
<text x="138.5" y="312.7" font-size="11.5" fill="#fff" text-anchor="end" >0</text>
<text x="138.5" y="270.3" font-size="11.5" fill="#fff" text-anchor="end" >5</text>
<text x="138.5" y="227.9" font-size="11.5" fill="#fff" text-anchor="end" >10</text>
<text x="138.5" y="185.4" font-size="11.5" fill="#fff" text-anchor="end" >15</text>
<text x="138.5" y="143.0" font-size="11.5" fill="#fff" text-anchor="end" >20</text>
<text x="138.5" y="100.6" font-size="11.5" fill="#fff" text-anchor="end" >25</text>
<text x="138.5" y="58.2" font-size="11.5" fill="#fff" text-anchor="end" >30</text>
<text x="770.5" y="567.2" font-size="11.5" fill="#fff" >0</text>
<text x="770.5" y="516.3" font-size="11.5" fill="#fff" >5</text>
<text x="770.5" y="465.4" font-size="11.5" fill="#fff" >10</text>
<text x="770.5" y="414.5" font-size="11.5" fill="#fff" >15</text>
<text x="770.5" y="363.6" font-size="11.5" fill="#fff" >20</text>
<text x="770.5" y="312.7" font-size="11.5" fill="#fff" >25</text>
<text x="770.5" y="261.8" font-size="11.5" fill="#fff" >30</text>
<text x="770.5" y="210.9" font-size="11.5" fill="#fff" >35</text>
<text x="770.5" y="160.0" font-size="11.5" fill="#fff" >40</text>
<text x="770.5" y="109.1" font-size="11.5" fill="#fff" >45</text>
<text x="770.5" y="58.2" font-size="11.5" fill="#fff" >50</text>
<text x="165.5" y="577" font-size="10.5" fill="#fff" text-anchor="middle" >29JAN</text>
<text x="283.1" y="577" font-size="10.5" fill="#fff" text-anchor="middle" >1FEB</text>
<text x="361.5" y="577" font-size="10.5" fill="#fff" text-anchor="middle" >3FEB</text>
<text x="439.9" y="577" font-size="10.5" fill="#fff" text-anchor="middle" >5FEB</text>
<text x="518.3" y="577" font-size="10.5" fill="#fff" text-anchor="middle" >7FEB</text>
<text x="596.7" y="577" font-size="10.5" fill="#fff" text-anchor="middle" >9FEB</text>
<text x="675.1" y="577" font-size="10.5" fill="#fff" text-anchor="middle" >11FEB</text>
<text x="753.5" y="577" font-size="10.5" fill="#fff" text-anchor="middle" >13FEB</text>
<text x="165.5" y="588.6" font-size="11.5" fill="#fff" text-anchor="middle" >2012</text>
<text x="53.6" y="113.0" font-size="11.2" fill="#4010ff" textLength="16.0" lengthAdjust="spacingAndGlyphs" >P0</text>
<text x="53.6" y="131.2" font-size="11.2" fill="#0048ff" textLength="16.0" lengthAdjust="spacingAndGlyphs" >P1</text>
<text x="53.6" y="149.4" font-size="11.2" fill="#0070ff" textLength="16.0" lengthAdjust="spacingAndGlyphs" >P2</text>
<text x="53.6" y="167.6" font-size="11.2" fill="#0090ff" textLength="16.0" lengthAdjust="spacingAndGlyphs" >P3</text>
<text x="53.6" y="185.8" font-size="11.2" fill="#00b0ff" textLength="16.0" lengthAdjust="spacingAndGlyphs" >P4</text>
<text x="53.6" y="204.0" font-size="11.2" fill="#00d0e0" textLength="16.0" lengthAdjust="spacingAndGlyphs" >P5</text>
<text x="53.6" y="222.2" font-size="11.2" fill="#00e0a0" textLength="16.0" lengthAdjust="spacingAndGlyphs" >P6</text>
<text x="53.6" y="240.4" font-size="11.2" fill="#00e070" textLength="16.0" lengthAdjust="spacingAndGlyphs" >P7</text>
<text x="53.6" y="258.6" font-size="11.2" fill="#00e040" textLength="16.0" lengthAdjust="spacingAndGlyphs" >P8</text>
<text x="53.6" y="276.8" font-size="11.2" fill="#20e000" textLength="16.0" lengthAdjust="spacingAndGlyphs" >P9</text>
<text x="53.6" y="295.0" font-size="11.2" fill="#40e000" textLength="23.4" lengthAdjust="spacingAndGlyphs" >P10</text>
<text x="53.6" y="313.2" font-size="11.2" fill="#f0f000" textLength="23.4" lengthAdjust="spacingAndGlyphs" >P11</text>
<text x="53.6" y="331.4" font-size="11.2" fill="#f0d000" textLength="23.4" lengthAdjust="spacingAndGlyphs" >P12</text>
<text x="53.6" y="349.6" font-size="11.2" fill="#f0b800" textLength="23.4" lengthAdjust="spacingAndGlyphs" >P13</text>
<text x="53.6" y="367.8" font-size="11.2" fill="#f0a000" textLength="23.4" lengthAdjust="spacingAndGlyphs" >P14</text>
<text x="53.6" y="386.0" font-size="11.2" fill="#f09000" textLength="23.4" lengthAdjust="spacingAndGlyphs" >P15</text>
<text x="53.6" y="404.2" font-size="11.2" fill="#f07800" textLength="23.4" lengthAdjust="spacingAndGlyphs" >P16</text>
<text x="53.6" y="422.4" font-size="11.2" fill="#f06000" textLength="23.4" lengthAdjust="spacingAndGlyphs" >P17</text>
<text x="53.6" y="440.6" font-size="11.2" fill="#f04818" textLength="23.4" lengthAdjust="spacingAndGlyphs" >P18</text>
<text x="53.6" y="458.8" font-size="11.2" fill="#e03820" textLength="23.4" lengthAdjust="spacingAndGlyphs" >P19</text>
<text x="53.6" y="477.0" font-size="11.2" fill="#d02020" textLength="23.4" lengthAdjust="spacingAndGlyphs" >P20</text>
<text x="71.79" y="18.75" font-size="18.5" fill="#fff" textLength="79.2" lengthAdjust="spacingAndGlyphs" stroke="#fff" stroke-width="0.15">Budapest</text>
<text x="168.59" y="18.75" font-size="18.5" fill="#fff" textLength="34.37" lengthAdjust="spacingAndGlyphs" stroke="#fff" stroke-width="0.15">Lat:</text>
<text x="212.5" y="18.75" font-size="18.5" fill="#fff" textLength="22.12" lengthAdjust="spacingAndGlyphs" stroke="#fff" stroke-width="0.15">48</text>
<text x="243.04" y="18.75" font-size="18.5" fill="#fff" textLength="34.43" lengthAdjust="spacingAndGlyphs" stroke="#fff" stroke-width="0.15">Lon:</text>
<text x="288.42" y="18.75" font-size="18.5" fill="#fff" textLength="22.2" lengthAdjust="spacingAndGlyphs" stroke="#fff" stroke-width="0.15">19</text>
<text x="544.5" y="18.75" font-size="18.5" fill="#fff" textLength="129.09" lengthAdjust="spacingAndGlyphs" stroke="#fff" stroke-width="0.15">Sat,28JAN2012</text>
<text x="685.02" y="18.75" font-size="18.5" fill="#fff" textLength="31.38" lengthAdjust="spacingAndGlyphs" stroke="#fff" stroke-width="0.15">12Z</text>
<text x="177.73" y="41.9" font-size="25.5" fill="#fff" textLength="43.33" lengthAdjust="spacingAndGlyphs" stroke="#000" stroke-width="0.3">850</text>
<text x="234.02" y="41.9" font-size="25.5" fill="#fff" textLength="44.86" lengthAdjust="spacingAndGlyphs" stroke="#000" stroke-width="0.3">hPa</text>
<text x="291.53" y="41.9" font-size="25.5" fill="#fff" textLength="67.35" lengthAdjust="spacingAndGlyphs" stroke="#000" stroke-width="0.3">Temp.</text>
<text x="368.56" y="41.9" font-size="25.5" fill="#fff" textLength="24.2" lengthAdjust="spacingAndGlyphs" stroke="#000" stroke-width="0.3">in</text>
<text x="404.05" y="41.9" font-size="25.5" fill="#fff" textLength="34.03" lengthAdjust="spacingAndGlyphs" stroke="#000" stroke-width="0.3">&#176;C,</text>
<text x="450.0" y="41.9" font-size="25.5" fill="#fff" textLength="191.88" lengthAdjust="spacingAndGlyphs" stroke="#000" stroke-width="0.3">6h&#8211;Niederschlag</text>
<text x="650.25" y="41.9" font-size="25.5" fill="#fff" textLength="22.34" lengthAdjust="spacingAndGlyphs" stroke="#000" stroke-width="0.3">in</text>
<text x="678.51" y="41.9" font-size="25.5" fill="#fff" textLength="52.83" lengthAdjust="spacingAndGlyphs" stroke="#000" stroke-width="0.3">mm</text>
<text x="658.7" y="73.2" font-size="11.8" fill="#fff" textLength="100.54" lengthAdjust="spacingAndGlyphs" >30&#8211;Jahres&#8211;Mittel</text>
<text x="657.59" y="87.8" font-size="11.8" fill="#fff" textLength="77.09" lengthAdjust="spacingAndGlyphs" >Kontroll&#8211;Lauf</text>
<text x="658.7" y="102.0" font-size="11.8" fill="#fff" textLength="84.29" lengthAdjust="spacingAndGlyphs" >GFS&#8211;Hauptlauf</text>
<text x="657.63" y="116.6" font-size="11.8" fill="#fff" textLength="93.1" lengthAdjust="spacingAndGlyphs" >Ensemble&#8211;Mittel</text>
<text x="145.05" y="611.7" font-size="12.2" fill="#fff" textLength="263.58" lengthAdjust="spacingAndGlyphs" >Daten: Ensembles des GFS von NCEP</text>
<text x="655.6" y="613.2" font-size="14.5" fill="#fff" textLength="118.94" lengthAdjust="spacingAndGlyphs" >Wetterzentrale</text>
</g>
</svg>
</body></html>
